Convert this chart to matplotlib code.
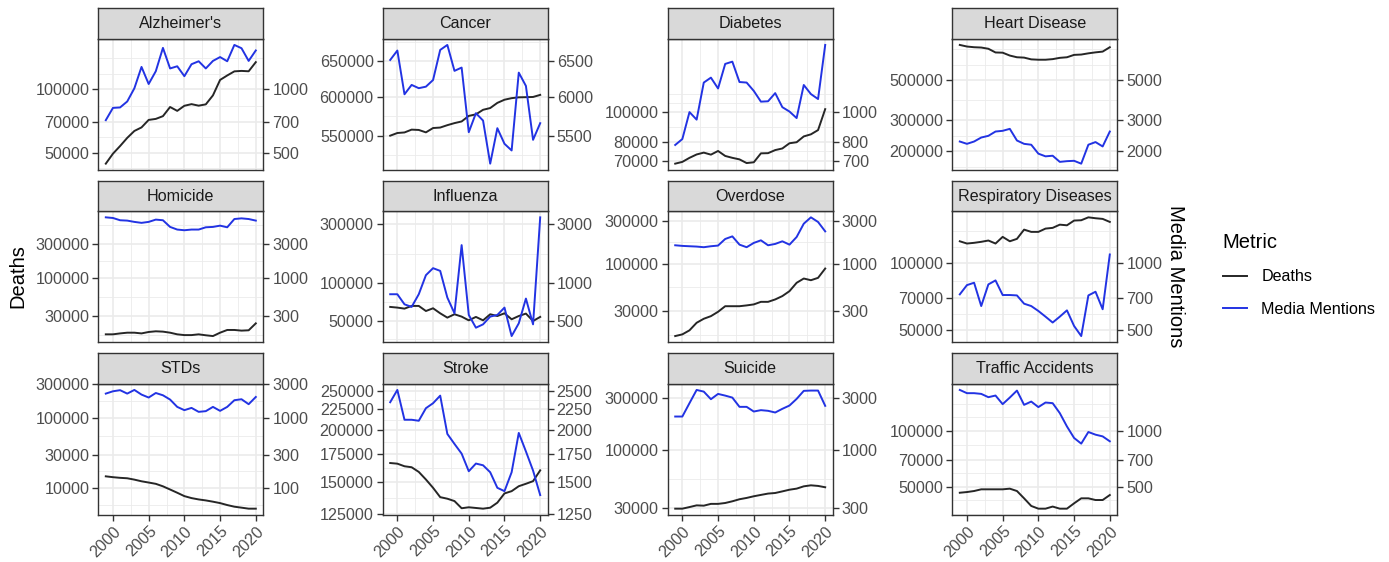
import numpy as np
import matplotlib
matplotlib.use("Agg")
import matplotlib.pyplot as plt
from matplotlib.ticker import FixedLocator, NullLocator, FixedFormatter
from matplotlib.lines import Line2D

plt.rcParams['font.family'] = ['Liberation Sans', 'DejaVu Sans']

years = list(range(1999, 2021))

causes = ["Alzheimer's", "Cancer", "Diabetes", "Heart Disease",
          "Homicide", "Influenza", "Overdose", "Respiratory Diseases",
          "STDs", "Stroke", "Suicide", "Traffic Accidents"]

alzheimers_deaths = [44500, 49600, 53900, 58900, 63500, 66000, 71600, 72400, 74600, 82400, 79000,
                     83500, 85000, 83600, 84800, 93500, 110600, 116100, 121400, 122000, 121500, 134200]
alzheimers_mentions = [714, 816, 820, 875, 1010, 1274, 1058, 1216, 1567, 1253, 1283,
                       1152, 1312, 1355, 1253, 1360, 1418, 1355, 1618, 1561, 1360, 1524]

cancer_deaths = [549800, 553100, 553800, 557300, 556900, 553900, 559300, 559900, 562900, 565500, 567600,
                 574700, 576700, 582600, 584900, 591700, 595900, 598000, 599100, 599300, 599600, 602400]
cancer_mentions = [6514, 6653, 6032, 6160, 6115, 6136, 6228, 6662, 6737, 6357, 6404,
                   5541, 5782, 5687, 5164, 5591, 5399, 5319, 6332, 6146, 5447, 5654]

diabetes_deaths = [68400, 69300, 71400, 73200, 74200, 73100, 75100, 72400, 71400, 70600, 68700,
                   69100, 73800, 73900, 75600, 76500, 79500, 80100, 83600, 84900, 87600, 102200]
diabetes_mentions = [785, 820, 1000, 946, 1243, 1289, 1190, 1426, 1450, 1248, 1243,
                     1169, 1080, 1083, 1150, 1037, 1004, 957, 1221, 1142, 1101, 1640]

heart_deaths = [789000, 773000, 766000, 763000, 751000, 716000, 714000, 688000, 673000, 670000, 655000,
                652000, 652000, 657000, 668000, 673000, 694000, 697000, 708000, 717000, 724000, 766000]
heart_mentions = [2270, 2203, 2270, 2390, 2443, 2582, 2606, 2673, 2300, 2203, 2178,
                  1941, 1875, 1890, 1746, 1762, 1770, 1706, 2178, 2254, 2130, 2582]

homicide_deaths = [16800, 16800, 17300, 17700, 17700, 17300, 18100, 18500, 18300, 17700, 16800,
                   16400, 16400, 16800, 16300, 15900, 17700, 19300, 19300, 18900, 19100, 23800]
homicide_mentions = [6900, 6760, 6290, 6220, 5970, 5790, 5970, 6420, 6290, 5090, 4680,
                     4580, 4680, 4680, 5030, 5090, 5300, 5030, 6540, 6680, 6540, 6220]

influenza_deaths = [64400, 63600, 62400, 65600, 65600, 59700, 62800, 57200, 52800, 56200, 53800,
                    50200, 53500, 50200, 56200, 54400, 57200, 51200, 54400, 56900, 49600, 53500]
influenza_mentions = [815, 815, 676, 644, 815, 1161, 1322, 1257, 766, 572, 2028,
                      555, 438, 466, 538, 555, 636, 375, 475, 752, 466, 3396]

overdose_deaths = [15900, 16600, 18400, 22300, 24700, 26400, 29500, 34000, 34000, 34000, 34700,
                   35600, 38000, 38000, 40400, 44000, 49900, 61700, 68800, 65900, 70000, 88700]
overdose_mentions = [1604, 1579, 1565, 1552, 1527, 1565, 1592, 1883, 2012, 1630, 1527,
                     1703, 1820, 1604, 1660, 1775, 1630, 1980, 2780, 3267, 2903, 2286]

respiratory_deaths = [125900, 123000, 123900, 125200, 126900, 123000, 131800, 125900, 129100, 142100, 138800,
                      138800, 143600, 144700, 149600, 148600, 156100, 156600, 161400, 159900, 158800, 153900]
respiratory_mentions = [726, 799, 819, 643, 805, 839, 721, 721, 718, 659, 643,
                        611, 576, 542, 576, 615, 523, 471, 718, 746, 622, 1098]

stds_deaths = [14700, 14300, 14000, 13800, 13200, 12500, 12000, 11500, 10600, 9550, 8590,
               7690, 7210, 6900, 6680, 6410, 6120, 5740, 5440, 5270, 5100, 5100]
stds_mentions = [2208, 2382, 2470, 2208, 2490, 2138, 1941, 2253, 2090, 1817, 1429,
                 1284, 1383, 1215, 1243, 1429, 1255, 1429, 1778, 1836, 1561, 1977]

stroke_deaths = [166700, 166100, 163700, 162800, 158600, 152000, 145100, 137700, 136500, 134700, 129400,
                 130100, 129600, 129100, 129800, 133500, 140600, 142400, 146400, 148400, 150600, 160000]
stroke_mentions = [2343, 2510, 2124, 2124, 2112, 2266, 2330, 2431, 1962, 1855, 1757,
                   1592, 1662, 1646, 1583, 1451, 1424, 1583, 1973, 1779, 1598, 1393]

suicide_deaths = [29400, 29400, 30400, 31500, 31300, 32500, 32500, 33100, 34300, 35800, 36800,
                  38100, 39200, 40300, 40800, 42200, 43700, 44700, 46900, 47900, 47300, 46000]
suicide_mentions = [2019, 2019, 2670, 3521, 3399, 2901, 3240, 3127, 3000, 2472, 2472,
                    2242, 2307, 2275, 2196, 2372, 2541, 2919, 3454, 3475, 3475, 2525]

traffic_deaths = [46400, 46800, 47400, 48400, 48400, 48400, 48400, 48800, 47400, 43300, 39400,
                  38100, 38100, 39100, 38100, 38100, 40700, 43300, 43300, 42400, 42400, 45100]
traffic_mentions = [1656, 1591, 1591, 1577, 1514, 1545, 1389, 1507, 1643, 1377, 1434,
                    1339, 1417, 1406, 1243, 1054, 914, 852, 984, 952, 932, 877]

deaths_breaks = [
    [50000, 70000, 100000],
    [550000, 600000, 650000],
    [70000, 80000, 100000],
    [200000, 300000, 500000],
    [30000, 100000, 300000],
    [50000, 100000, 300000],
    [30000, 100000, 300000],
    [50000, 70000, 100000],
    [10000, 30000, 100000, 300000],
    [125000, 150000, 175000, 200000, 225000, 250000],
    [30000, 100000, 300000],
    [50000, 70000, 100000],
]
year_breaks = [2000, 2005, 2010, 2015, 2020]
year_minor = [2002.5, 2007.5, 2012.5, 2017.5]
mention_scale = 100

all_deaths = [alzheimers_deaths, cancer_deaths, diabetes_deaths, heart_deaths,
              homicide_deaths, influenza_deaths, overdose_deaths, respiratory_deaths,
              stds_deaths, stroke_deaths, suicide_deaths, traffic_deaths]
all_mentions = [alzheimers_mentions, cancer_mentions, diabetes_mentions, heart_mentions,
                homicide_mentions, influenza_mentions, overdose_mentions, respiratory_mentions,
                stds_mentions, stroke_mentions, suicide_mentions, traffic_mentions]

W, H = 1389, 562
fig = plt.figure(figsize=(W / 100, H / 100), dpi=100)

col_left = [98.3, 382.7, 667.7, 952.3]
panel_w = 165.0
strip_top = [8.3, 180.7, 353.3]
strip_h = 30.7
panel_h = 130.6

C_DEATH = '#262626'
C_MENT = '#2233E3'
GRID = '#EBEBEB'
BORDER = '#333333'
TXT = '#4D4D4D'
FS = 11.6


def minor_breaks_log(b, lo, hi):
    lb = list(np.log10(b))
    bd = lb[1] - lb[0]
    if lo < lb[0]:
        lb = [lb[0] - bd] + lb
    if hi > lb[-1]:
        lb = lb + [lb[-1] + bd]
    mids = [(a + c) / 2 for a, c in zip(lb[:-1], lb[1:])]
    extra = [v for v in lb if v not in np.log10(b)]
    res = [10 ** v for v in mids + extra if lo <= v <= hi]
    return res


def rect(x, y, w, h):
    return [x / W, 1 - (y + h) / H, w / W, h / H]


x_lo = years[0] - 0.05 * (years[-1] - years[0])
x_hi = years[-1] + 0.05 * (years[-1] - years[0])

for i, name in enumerate(causes):
    r, c = divmod(i, 4)
    d = np.array(all_deaths[i], dtype=float)
    m = np.array(all_mentions[i], dtype=float)
    allv = np.log10(np.concatenate([d, m * mention_scale]))
    lo, hi = allv.min(), allv.max()
    span = hi - lo
    llo, lhi = lo - 0.05 * span, hi + 0.05 * span

    ax = fig.add_axes(rect(col_left[c], strip_top[r] + strip_h, panel_w, panel_h))
    ax.set_yscale('log')
    ax.set_xlim(x_lo, x_hi)
    ax.set_ylim(10 ** llo, 10 ** lhi)
    ax.plot(years, d, color=C_DEATH, lw=1.4, zorder=3)
    ax.plot(years, m * mention_scale, color=C_MENT, lw=1.4, zorder=3)

    b = deaths_breaks[i]
    ax.yaxis.set_major_locator(FixedLocator(b))
    ax.yaxis.set_major_formatter(FixedFormatter([str(v) for v in b]))
    ax.yaxis.set_minor_locator(FixedLocator(minor_breaks_log(b, llo, lhi)))
    ax.yaxis.set_minor_formatter(FixedFormatter([]))
    ax.xaxis.set_major_locator(FixedLocator(year_breaks))
    ax.xaxis.set_minor_locator(FixedLocator(year_minor))
    ax.grid(which='major', color=GRID, lw=1.2, zorder=0)
    ax.grid(which='minor', color=GRID, lw=0.6, zorder=0)
    ax.set_axisbelow(True)
    for s in ax.spines.values():
        s.set_color(BORDER)
        s.set_linewidth(1.0)
    ax.tick_params(which='minor', length=0)
    ax.tick_params(axis='y', which='major', length=4.5, width=1.0, color=BORDER,
                   labelsize=FS, labelcolor=TXT, pad=2)
    if r == 2:
        ax.tick_params(axis='x', which='major', length=4.5, width=1.0, color=BORDER,
                       labelsize=FS, labelcolor=TXT, pad=2)
        ax.set_xticks(year_breaks)
        ax.set_xticklabels([str(y) for y in year_breaks], rotation=45, ha='right',
                           va='top', rotation_mode='anchor')
    else:
        ax.tick_params(axis='x', which='major', length=0, labelbottom=False)

    ax2 = ax.twinx()
    ax2.set_yscale('log')
    ax2.set_ylim(10 ** llo / mention_scale, 10 ** lhi / mention_scale)
    rb = [v // mention_scale for v in b]
    ax2.yaxis.set_major_locator(FixedLocator(rb))
    ax2.yaxis.set_major_formatter(FixedFormatter([str(v) for v in rb]))
    ax2.yaxis.set_minor_locator(NullLocator())
    for s in ax2.spines.values():
        s.set_visible(False)
    ax2.tick_params(axis='y', which='major', length=4.5, width=1.0, color=BORDER,
                    labelsize=FS, labelcolor=TXT, pad=2)

    sa = fig.add_axes(rect(col_left[c], strip_top[r], panel_w, strip_h))
    sa.set_facecolor('#D9D9D9')
    sa.set_xticks([])
    sa.set_yticks([])
    for s in sa.spines.values():
        s.set_color(BORDER)
        s.set_linewidth(1.0)
    sa.text(0.5, 0.5, name, ha='center', va='center', fontsize=FS, color='#1A1A1A',
            transform=sa.transAxes)

fig.text(18 / W, 1 - 276 / H, 'Deaths', rotation=90, ha='center', va='center', fontsize=14.5)
fig.text(1175 / W, 1 - 276 / H, 'Media Mentions', rotation=270, ha='center', va='center',
         fontsize=14.5)

handles = [Line2D([], [], color=C_DEATH, lw=1.4), Line2D([], [], color=C_MENT, lw=1.4)]
leg = fig.legend(handles, ['Deaths', 'Media Mentions'], title='Metric',
                 loc='upper left', bbox_to_anchor=(1208 / W, 1 - 218 / H),
                 frameon=False, fontsize=FS, title_fontsize=14.5,
                 handlelength=1.5, handletextpad=0.9, labelspacing=1.1)
leg._legend_box.align = 'left'

fig.savefig('out.png', dpi=100)
